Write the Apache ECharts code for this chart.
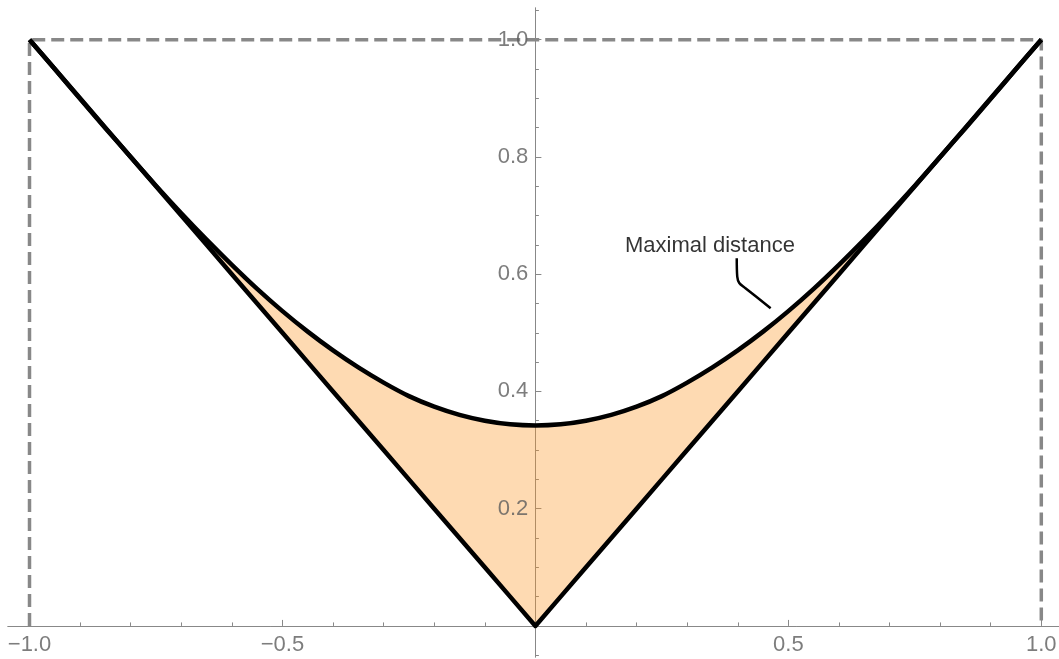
<!DOCTYPE html>
<html>
<head>
<meta charset="utf-8">
<script src="https://cdn.jsdelivr.net/npm/echarts@6.0.0/dist/echarts.min.js"></script>
<style>
  html, body { margin: 0; padding: 0; background: #fff; }
  #main { width: 1059px; height: 659px; }
</style>
</head>
<body>
<div id="main"></div>
<script>
// sample positions on x
var xs = [-1, -0.95, -0.9, -0.85, -0.8, -0.75, -0.7, -0.65, -0.6, -0.55, -0.5,
  -0.45, -0.4, -0.35, -0.3, -0.25, -0.2, -0.15, -0.1, -0.05, 0,
  0.05, 0.1, 0.15, 0.2, 0.25, 0.3, 0.35, 0.4, 0.45, 0.5,
  0.55, 0.6, 0.65, 0.7, 0.75, 0.8, 0.85, 0.9, 0.95, 1];
// the V line |x|
var absLine = [1, 0.95, 0.9, 0.85, 0.8, 0.75, 0.7, 0.65, 0.6, 0.55, 0.5,
  0.45, 0.4, 0.35, 0.3, 0.25, 0.2, 0.15, 0.1, 0.05, 0,
  0.05, 0.1, 0.15, 0.2, 0.25, 0.3, 0.35, 0.4, 0.45, 0.5,
  0.55, 0.6, 0.65, 0.7, 0.75, 0.8, 0.85, 0.9, 0.95, 1];
// smooth approximating curve
var approxCurve = [1, 0.95, 0.899, 0.849, 0.8, 0.751, 0.704, 0.659, 0.616, 0.575, 0.537,
  0.502, 0.470, 0.441, 0.415, 0.392, 0.374, 0.360, 0.350, 0.344, 0.342,
  0.344, 0.350, 0.360, 0.374, 0.392, 0.415, 0.441, 0.470, 0.502, 0.537,
  0.575, 0.616, 0.659, 0.704, 0.751, 0.8, 0.849, 0.899, 0.95, 1];
// dashed frame
var boxX = [-1, -1, 1, 1];
var boxY = [0, 1, 1, 0];
// annotation
var noteText = 'Maximal distance';
var notePos = [0.345, 0.649];
var leaderX = [0.398, 0.399, 0.403, 0.414, 0.465];
var leaderY = [0.627, 0.596, 0.585, 0.577, 0.542];
// ticks
var xMajorTicks = [-1, -0.5, 0.5, 1];
var xMinorTicks = [-0.9, -0.8, -0.7, -0.6, -0.4, -0.3, -0.2, -0.1, 0.1, 0.2, 0.3, 0.4, 0.6, 0.7, 0.8, 0.9];
var yMajorTicks = [0.2, 0.4, 0.6, 0.8, 1.0];
var yMinorTicks = [-0.05, 0.05, 0.1, 0.15, 0.25, 0.3, 0.35, 0.45, 0.5, 0.55, 0.65, 0.7, 0.75, 0.85, 0.9, 0.95, 1.05];

var axisGray = '#888888';
var labelGray = '#5c5c5c';
var font = 'Liberation Sans, Arial, sans-serif';
var xMin = -1.0425, xMax = 1.035, yMin = -0.053, yMax = 1.054;

function fmt(v) {
  return v.toFixed(1).replace('-', '\u2212');
}

var pairs = function (a, b) {
  return a.map(function (v, i) { return [v, b[i]]; });
};

function axis(min, max, ticks, len) {
  return {
    type: 'value', min: min, max: max,
    axisLine: { onZero: true, onZeroAxisIndex: 0, lineStyle: { color: axisGray, width: 1 } },
    axisTick: { inside: true, length: len, customValues: ticks, lineStyle: { color: axisGray } },
    axisLabel: { show: false },
    splitLine: { show: false }
  };
}

var xMain = axis(xMin, xMax, xMajorTicks, 6);
var xMinor = axis(xMin, xMax, xMinorTicks, 3.5);
var yMain = axis(yMin, yMax, yMajorTicks, 6);
var yMinor = axis(yMin, yMax, yMinorTicks, 3.5);
xMain.position = xMinor.position = 'bottom';
yMain.position = yMinor.position = 'left';

// tick labels sit on the crossing axes, so they are put on the zero lines
function tickLabels(data, pos, dist, dim) {
  return {
    type: 'scatter', symbolSize: 0.1, silent: true,
    itemStyle: { color: 'transparent' },
    data: data,
    label: {
      show: true, position: pos, distance: dist,
      formatter: function (p) { return fmt(p.value[dim]); },
      color: labelGray, fontSize: 22, fontFamily: font
    },
    z: 5
  };
}

var myChart = echarts.init(document.getElementById('main'));
var option = {
  animation: false,
  grid: { left: 8, right: 0, top: 8, bottom: 2, outerBoundsMode: 'none', containLabel: false },
  xAxis: [xMain, xMinor],
  yAxis: [yMain, yMinor],
  series: [
    {
      name: 'frame', type: 'line', symbol: 'none',
      data: pairs(boxX, boxY),
      lineStyle: { color: '#888888', width: 3.5, type: [13, 6] },
      z: 1
    },
    {
      // band between the two curves
      name: 'band', type: 'custom', coordinateSystem: 'cartesian2d',
      data: [[0, 0]],
      renderItem: function (params, api) {
        var pts = [];
        for (var i = 0; i < xs.length; i++) pts.push(api.coord([xs[i], approxCurve[i]]));
        for (var j = xs.length - 1; j >= 0; j--) pts.push(api.coord([xs[j], absLine[j]]));
        return { type: 'polygon', shape: { points: pts, smooth: 0 }, style: { fill: 'rgba(252,149,35,0.35)' } };
      },
      z: 2
    },
    {
      name: 'abs', type: 'line', symbol: 'none',
      data: pairs(xs, absLine),
      lineStyle: { color: '#000', width: 4.5, join: 'round' },
      z: 3
    },
    {
      name: 'approx', type: 'line', symbol: 'none', smooth: 0.3,
      data: pairs(xs, approxCurve),
      lineStyle: { color: '#000', width: 4.5, join: 'round' },
      z: 3
    },
    {
      name: 'leader', type: 'line', symbol: 'none', smooth: 0.3,
      data: pairs(leaderX, leaderY),
      lineStyle: { color: '#000', width: 2.5 },
      z: 4
    },
    {
      name: 'note', type: 'scatter', symbolSize: 0.1, silent: true,
      itemStyle: { color: 'transparent' },
      data: [notePos],
      label: { show: true, position: 'inside', formatter: noteText, color: '#000', fontSize: 22, fontFamily: font },
      z: 4
    },
    tickLabels(xMajorTicks.map(function (v) { return [v, 0]; }), 'bottom', 8, 0),
    tickLabels(yMajorTicks.map(function (v) { return [0, v]; }), 'left', 7, 1)
  ]
};
myChart.setOption(option);
</script>
</body>
</html>
